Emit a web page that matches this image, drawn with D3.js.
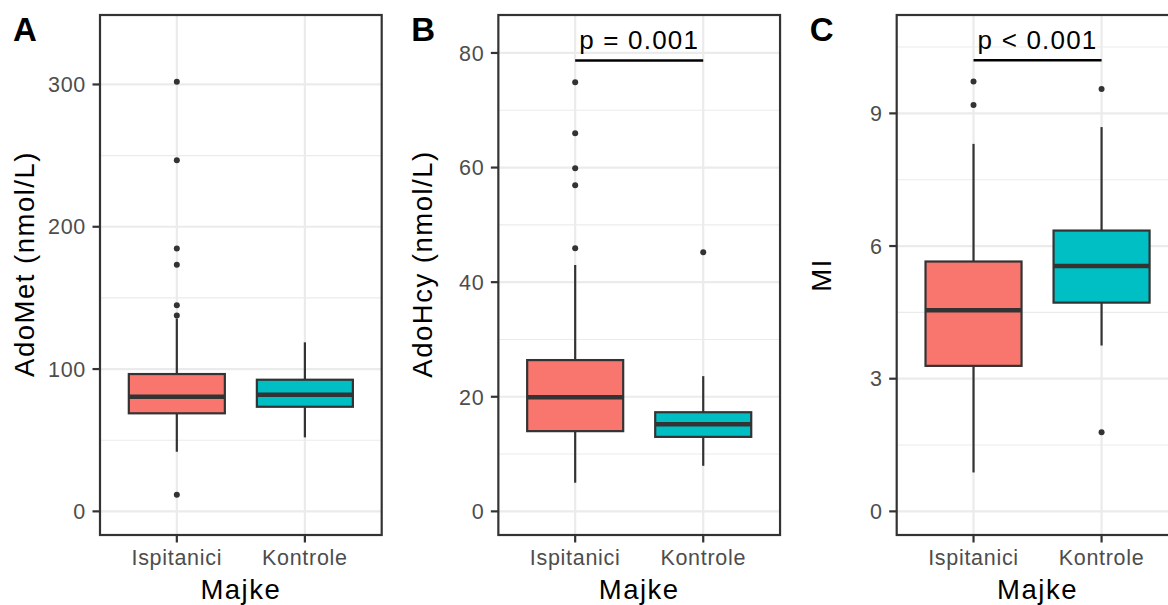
<!DOCTYPE html>
<html><head><meta charset="utf-8">
<script src="https://cdn.jsdelivr.net/npm/d3@7"></script>
<style>
body{margin:0;background:#fff}
svg{display:block}
text{font-family:"Liberation Sans",Arial,Helvetica,sans-serif}
</style>
</head><body>
<svg id="chart" width="1168" height="605"></svg>
<script>
// ---------- data ----------
const categories = ["Ispitanici", "Kontrole"];
const fillColors = ["#F8766D", "#00BFC4"];
const xTitle = "Majke";

// box stats: [lower whisker, Q1, median, Q3, upper whisker]
const adoMetBoxes = [[41.9, 68.9, 80.5, 96.5, 135.5], [52.0, 73.5, 81.9, 92.5, 118.8]];
const adoMetOutliers = [[11.7, 137.7, 144.8, 173.3, 184.8, 246.7, 301.9], []];
const adoMetTicks = [0, 100, 200, 300];
const adoMetMinor = [50, 150, 250];
const adoMetLimits = [0, 332.2];

const adoHcyBoxes = [[5.0, 14.0, 19.9, 26.4, 43.0], [7.95, 13.0, 15.2, 17.3, 23.6]];
const adoHcyOutliers = [[45.9, 56.9, 59.9, 66.0, 74.9], [45.2]];
const adoHcyTicks = [0, 20, 40, 60, 80];
const adoHcyMinor = [10, 30, 50, 70];
const adoHcyLimits = [0, 82.5];
const adoHcyPLabel = "p = 0.001";
const adoHcyBracketY = 78.7;

const miBoxes = [[0.88, 3.29, 4.55, 5.65, 8.31], [3.75, 4.72, 5.55, 6.35, 8.69]];
const miOutliers = [[9.19, 9.72], [1.79, 9.55]];
const miTicks = [0, 3, 6, 9];
const miMinor = [1.5, 4.5, 7.5, 10.5];
const miLimits = [0, 10.69];
const miPLabel = "p < 0.001";
const miBracketY = 10.2;

const panelTags = ["A", "B", "C"];
const yTitles = ["AdoMet (nmol/L)", "AdoHcy (nmol/L)", "MI"];

// ---------- layout ----------
const panels = [
  {tag: panelTags[0], title: yTitles[0], boxes: adoMetBoxes, outliers: adoMetOutliers, ticks: adoMetTicks, minor: adoMetMinor, limits: adoMetLimits, p: null, bracket: null, titleCenter: 264},
  {tag: panelTags[1], title: yTitles[1], boxes: adoHcyBoxes, outliers: adoHcyOutliers, ticks: adoHcyTicks, minor: adoHcyMinor, limits: adoHcyLimits, p: adoHcyPLabel, bracket: adoHcyBracketY, titleCenter: 264},
  {tag: panelTags[2], title: yTitles[2], boxes: miBoxes, outliers: miOutliers, ticks: miTicks, minor: miMinor, limits: miLimits, p: miPLabel, bracket: miBracketY, titleCenter: 275}
];

const svg = d3.select("#chart");
const panelOffset = 398.35;
const pLeft = 100, pW = 281.7, pTop = 15, pBottom = 535;
const grid = "#EBEBEB", dark = "#333333", tickCol = "#4D4D4D";

panels.forEach((pn, i) => {
  const ox = i * panelOffset;
  const g = svg.append("g");
  const left = ox + pLeft, right = left + pW;
  const x = d3.scalePoint().domain(categories).range([left, right]).padding(0.6);
  const r = pn.limits[1] - pn.limits[0];
  const y = d3.scaleLinear().domain([pn.limits[0] - 0.05 * r, pn.limits[1] + 0.05 * r]).range([pBottom, pTop]);
  const step = x.step();
  const bw = step * 0.75;

  g.selectAll(".minor").data(pn.minor).join("line")
    .attr("x1", left).attr("x2", right)
    .attr("y1", d => y(d)).attr("y2", d => y(d))
    .attr("stroke", grid).attr("stroke-width", 1.1);
  g.selectAll(".major").data(pn.ticks).join("line")
    .attr("x1", left).attr("x2", right)
    .attr("y1", d => y(d)).attr("y2", d => y(d))
    .attr("stroke", grid).attr("stroke-width", 2.2);
  g.selectAll(".vmajor").data(categories).join("line")
    .attr("x1", d => x(d)).attr("x2", d => x(d))
    .attr("y1", pTop).attr("y2", pBottom)
    .attr("stroke", grid).attr("stroke-width", 2.2);

  pn.boxes.forEach((b, k) => {
    const cx = x(categories[k]);
    g.append("line").attr("x1", cx).attr("x2", cx).attr("y1", y(b[4])).attr("y2", y(b[3]))
      .attr("stroke", dark).attr("stroke-width", 2.2);
    g.append("line").attr("x1", cx).attr("x2", cx).attr("y1", y(b[1])).attr("y2", y(b[0]))
      .attr("stroke", dark).attr("stroke-width", 2.2);
    g.append("rect").attr("x", cx - bw / 2).attr("width", bw)
      .attr("y", y(b[3])).attr("height", y(b[1]) - y(b[3]))
      .attr("fill", fillColors[k]).attr("stroke", dark).attr("stroke-width", 2.2);
    g.append("line").attr("x1", cx - bw / 2).attr("x2", cx + bw / 2)
      .attr("y1", y(b[2])).attr("y2", y(b[2]))
      .attr("stroke", dark).attr("stroke-width", 4.5);
    g.selectAll(null).data(pn.outliers[k]).join("circle")
      .attr("cx", cx).attr("cy", d => y(d)).attr("r", 3).attr("fill", dark);
  });

  g.append("rect").attr("x", left).attr("y", pTop).attr("width", pW).attr("height", pBottom - pTop)
    .attr("fill", "none").attr("stroke", dark).attr("stroke-width", 2.2);

  const yAxis = g.append("g");
  yAxis.selectAll("line").data(pn.ticks).join("line")
    .attr("x1", left - 7.5).attr("x2", left).attr("y1", d => y(d)).attr("y2", d => y(d))
    .attr("stroke", dark).attr("stroke-width", 2.2);
  yAxis.selectAll("text").data(pn.ticks).join("text")
    .attr("x", left - 14).attr("y", d => y(d)).attr("dy", "0.36em")
    .attr("text-anchor", "end").attr("fill", tickCol)
    .style("font-size", "21.5px").style("letter-spacing", "0.7px")
    .text(d => d);

  const xAxis = g.append("g");
  xAxis.selectAll("line").data(categories).join("line")
    .attr("x1", d => x(d)).attr("x2", d => x(d)).attr("y1", pBottom).attr("y2", pBottom + 7.5)
    .attr("stroke", dark).attr("stroke-width", 2.2);
  xAxis.selectAll("text").data(categories).join("text")
    .attr("x", d => x(d)).attr("y", 565)
    .attr("text-anchor", "middle").attr("fill", tickCol)
    .style("font-size", "21.5px").style("letter-spacing", "0.7px")
    .text(d => d);

  g.append("text").attr("x", (left + right) / 2).attr("y", 599)
    .attr("text-anchor", "middle").attr("fill", "#000")
    .style("font-size", "27.5px").style("letter-spacing", "1.5px").text(xTitle);
  g.append("text")
    .attr("transform", `translate(${ox + 34},${pn.titleCenter}) rotate(-90)`)
    .attr("text-anchor", "middle").attr("fill", "#000")
    .style("font-size", "27.5px").style("letter-spacing", "1.5px").text(pn.title);

  g.append("text").attr("x", ox + 13).attr("y", 40.5)
    .attr("fill", "#000").style("font-size", "33px").style("font-weight", "bold").text(pn.tag);

  if (pn.p) {
    const x1 = x(categories[0]), x2 = x(categories[1]);
    g.append("line").attr("x1", x1).attr("x2", x2)
      .attr("y1", y(pn.bracket)).attr("y2", y(pn.bracket))
      .attr("stroke", "#000").attr("stroke-width", 2.5);
    g.append("text").attr("x", (x1 + x2) / 2).attr("y", y(pn.bracket) - 11)
      .attr("text-anchor", "middle").attr("fill", "#000")
      .style("font-size", "26px").style("letter-spacing", "1.2px").text(pn.p);
  }
});
</script>
</body></html>
